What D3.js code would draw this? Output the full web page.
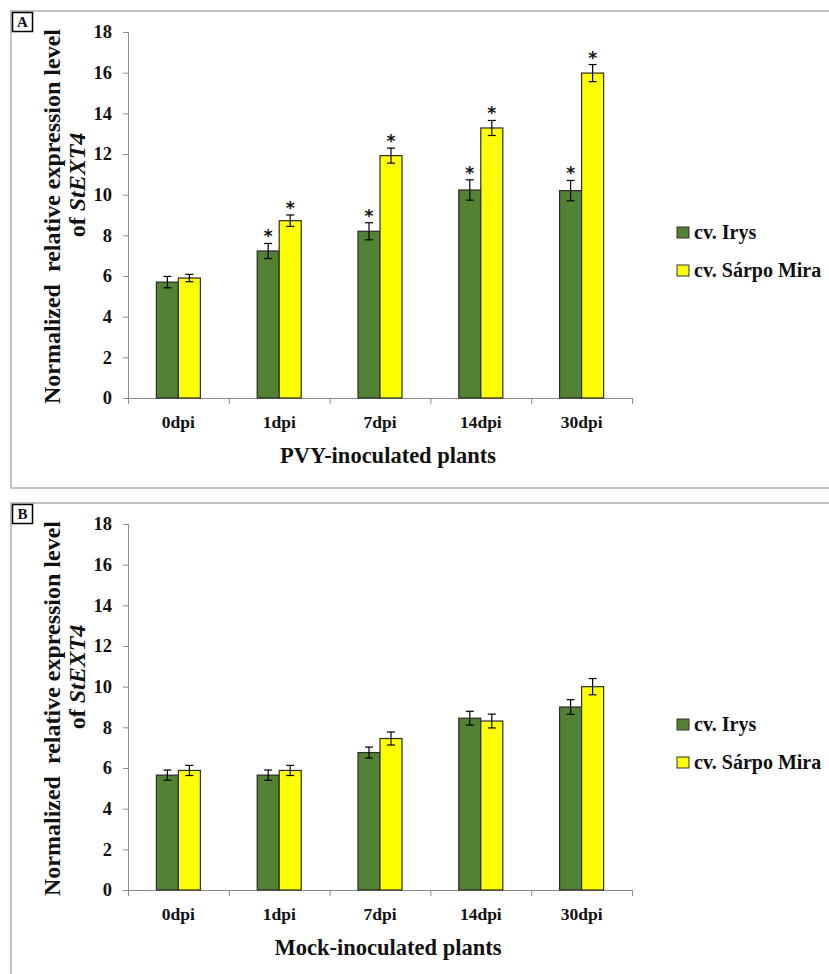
<!DOCTYPE html>
<html>
<head>
<meta charset="utf-8">
<script src="https://cdn.jsdelivr.net/npm/d3@7"></script>
<style>
  body { margin: 0; background: #fff; }
  text { font-family: "Liberation Serif", "DejaVu Serif", serif; font-weight: bold; fill: #111; }
</style>
</head>
<body>
<div id="chart"></div>
<script>
const categories = ["0dpi", "1dpi", "7dpi", "14dpi", "30dpi"];
const seriesNames = ["cv. Irys", "cv. Sárpo Mira"];
const yTicks = [0, 2, 4, 6, 8, 10, 12, 14, 16, 18];

// panel A: PVY-inoculated
const pvyIrys = [5.7, 7.23, 8.2, 10.23, 10.2];
const pvyIrysErr = [0.28, 0.37, 0.42, 0.5, 0.5];
const pvySarpo = [5.9, 8.72, 11.92, 13.28, 15.98];
const pvySarpoErr = [0.18, 0.28, 0.37, 0.37, 0.42];
const pvyIrysStar = [false, true, true, true, true];
const pvySarpoStar = [false, true, true, true, true];

// panel B: mock-inoculated
const mockIrys = [5.65, 5.65, 6.76, 8.45, 9.0];
const mockIrysErr = [0.25, 0.25, 0.27, 0.34, 0.36];
const mockSarpo = [5.88, 5.88, 7.45, 8.31, 10.0];
const mockSarpoErr = [0.25, 0.25, 0.32, 0.34, 0.4];

const colors = ["#548235", "#ffff00"];

const width = 829, height = 974;
const config = {
  panelH: 492,
  plotLeft: 128, plotRight: 632,
  plotTop: 32, plotBottom: 398
};

const svg = d3.select("#chart").append("svg")
  .attr("width", width)
  .attr("height", height);

const xScale = d3.scaleBand()
  .domain(categories)
  .range([config.plotLeft, config.plotRight])
  .padding(0);

const xEdges = d3.scaleLinear()
  .domain([0, categories.length])
  .range([config.plotLeft, config.plotRight]);

const yScale = d3.scaleLinear()
  .domain([0, 18])
  .range([config.plotBottom, config.plotTop]);

const pairW = 44;
const xSub = d3.scaleBand()
  .domain(seriesNames)
  .range([xScale.bandwidth() / 2 - pairW / 2, xScale.bandwidth() / 2 + pairW / 2])
  .padding(0);

function drawPanel(offsetY, letter, xTitle, series) {
  const g = svg.append("g").attr("transform", `translate(0, ${offsetY})`);

  // outer frame
  g.append("rect")
    .attr("x", 11).attr("y", 11)
    .attr("width", width + 10).attr("height", 477)
    .attr("fill", "none")
    .attr("stroke", "#b0b0b0")
    .attr("stroke-width", 1.5);

  // letter box
  g.append("rect")
    .attr("x", 12.5).attr("y", 12.5)
    .attr("width", 20).attr("height", 19)
    .attr("fill", "#fff")
    .attr("stroke", "#000")
    .attr("stroke-width", 1.5);
  g.append("text")
    .attr("x", 22.5).attr("y", 27)
    .attr("text-anchor", "middle")
    .attr("font-size", "15px")
    .text(letter);

  // y axis
  const yAxisG = g.append("g")
    .attr("transform", `translate(${config.plotLeft}, 0)`)
    .call(d3.axisLeft(yScale).tickValues(yTicks).tickSize(5).tickPadding(11));
  yAxisG.selectAll(".domain, .tick line").attr("stroke", "#8c8c8c");
  yAxisG.selectAll("text")
    .style("font-size", "18.5px")
    .attr("fill", "#111");

  // x axis (edges with ticks)
  const xAxisG = g.append("g")
    .attr("transform", `translate(0, ${config.plotBottom})`)
    .call(d3.axisBottom(xEdges).tickValues(d3.range(categories.length + 1)).tickFormat("").tickSize(6));
  xAxisG.selectAll(".domain, .tick line").attr("stroke", "#8c8c8c");

  // category labels
  const xLabG = g.append("g")
    .attr("transform", `translate(0, ${config.plotBottom})`)
    .call(d3.axisBottom(xScale).tickSize(0).tickPadding(18));
  xLabG.select(".domain").remove();
  xLabG.selectAll("text")
    .style("font-size", "17.5px")
    .attr("fill", "#111");

  // bars
  series.forEach((s, si) => {
    const grp = g.append("g");
    const rows = categories.map((c, i) => ({ c, v: s.values[i], e: s.err[i], star: s.star ? s.star[i] : false }));
    grp.selectAll("rect")
      .data(rows)
      .join("rect")
      .attr("x", d => xScale(d.c) + xSub(seriesNames[si]))
      .attr("y", d => yScale(d.v))
      .attr("width", xSub.bandwidth())
      .attr("height", d => yScale(0) - yScale(d.v))
      .attr("fill", colors[si])
      .attr("stroke", "#2b2b2b")
      .attr("stroke-width", 1.2);

    const cx = d => xScale(d.c) + xSub(seriesNames[si]) + xSub.bandwidth() / 2;
    const eg = grp.selectAll("g.err").data(rows).join("g").attr("class", "err");
    eg.append("line")
      .attr("x1", cx).attr("x2", cx)
      .attr("y1", d => yScale(d.v + d.e)).attr("y2", d => yScale(d.v - d.e))
      .attr("stroke", "#000").attr("stroke-width", 1.2);
    [1, -1].forEach(sign => {
      eg.append("line")
        .attr("x1", d => cx(d) - 4).attr("x2", d => cx(d) + 4)
        .attr("y1", d => yScale(d.v + sign * d.e)).attr("y2", d => yScale(d.v + sign * d.e))
        .attr("stroke", "#000").attr("stroke-width", 1.2);
    });
    grp.selectAll("text.star")
      .data(rows.filter(d => d.star))
      .join("text")
      .attr("class", "star")
      .attr("x", cx)
      .attr("y", d => yScale(d.v + d.e) - 1)
      .attr("text-anchor", "middle")
      .style("font-size", "17px")
      .style("font-family", "DejaVu Sans, sans-serif")
      .text("*");
  });

  // x title
  g.append("text")
    .attr("x", (config.plotLeft + config.plotRight) / 2 + 8)
    .attr("y", 463)
    .attr("text-anchor", "middle")
    .style("font-size", "22.5px")
    .text(xTitle);

  // y title line 1
  g.append("text")
    .attr("transform", "translate(60, 216.5) rotate(-90)")
    .attr("text-anchor", "middle")
    .style("font-size", "24px")
    .style("white-space", "pre")
    .text("Normalized  relative expression level");

  // y title line 2; after layout, nudge so its screen extent is centred on y=185
  const yt2 = g.append("text")
    .attr("transform", "translate(85, 185) rotate(-90)")
    .attr("text-anchor", "middle")
    .style("font-size", "24px");
  yt2.append("tspan").text("of\u00a0");
  yt2.append("tspan").style("font-style", "italic").text("StEXT4");
  const svgTop = svg.node().getBoundingClientRect().top;
  const r = yt2.node().getBoundingClientRect();
  const mid = (r.top + r.bottom) / 2 - svgTop - offsetY;
  yt2.attr("transform", `translate(85, ${185 + (185 - mid)}) rotate(-90)`);

  // legend
  const leg = g.append("g").attr("transform", "translate(677, 227)");
  seriesNames.forEach((name, i) => {
    const row = leg.append("g").attr("transform", `translate(0, ${i * 38})`);
    row.append("rect")
      .attr("width", 12).attr("height", 11)
      .attr("fill", colors[i])
      .attr("stroke", "#333")
      .attr("stroke-width", 1);
    row.append("text")
      .attr("x", 17).attr("y", 12)
      .style("font-size", "20px")
      .text(name);
  });
}

drawPanel(0, "A", "PVY-inoculated plants", [
  { values: pvyIrys, err: pvyIrysErr, star: pvyIrysStar },
  { values: pvySarpo, err: pvySarpoErr, star: pvySarpoStar }
]);
drawPanel(config.panelH, "B", "Mock-inoculated plants", [
  { values: mockIrys, err: mockIrysErr },
  { values: mockSarpo, err: mockSarpoErr }
]);
</script>
</body>
</html>
